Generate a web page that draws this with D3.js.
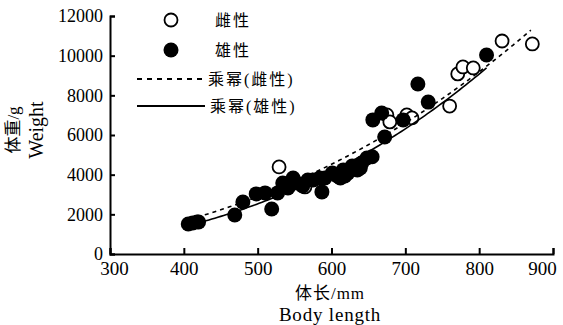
<!DOCTYPE html>
<html>
<head>
<meta charset="utf-8">
<script src="https://cdn.jsdelivr.net/npm/d3@7"></script>
<style>
  body { margin: 0; background: #fff; }
  text { fill: #000; }
</style>
</head>
<body>
<div id="chart"></div>
<script>
// body length (mm) and weight (g)
// (the first female point sits underneath the filled male markers)
const femaleLength = [418, 529, 564, 675, 679, 702, 709, 760, 771, 778, 792, 831, 872];
const femaleWeight = [1620, 4390, 3380, 7010, 6660, 7010, 6860, 7460, 9080, 9430, 9380, 10740, 10590];

const maleLength = [406, 412, 420, 469, 480, 498, 510, 519, 527, 534, 541, 548, 553, 561, 568, 575,
  584, 587, 591, 601, 608, 612, 616, 618, 622, 628, 635, 639, 641, 648, 655, 672, 656, 668, 697, 717, 731, 810];
const maleWeight = [1510, 1560, 1610, 1970, 2620, 3030, 3080, 2270, 3080, 3580, 3330, 3830, 3580, 3430, 3730, 3730,
  3830, 3130, 3830, 4080, 3930, 3830, 4240, 3930, 4080, 4440, 4240, 4340, 4590, 4840, 4900, 5900, 6760, 7110, 6760, 8570, 7660, 10030];

// power trend lines W = a * L^b as [ln a, b]
const femaleTrend = [-7.319, 2.46];
const maleTrend = [-9.069, 2.72];

const xTicks = [300, 400, 500, 600, 700, 800, 900];
const yTicks = [0, 2000, 4000, 6000, 8000, 10000, 12000];

const W = 563, H = 325;
const margin = { top: 16, right: 10, bottom: 71, left: 110 };
const serif = "'Liberation Serif', 'Noto Sans CJK SC', serif";

const svg = d3.select("#chart").append("svg")
  .attr("width", W)
  .attr("height", H);

const x = d3.scaleLinear().domain([300, 900]).range([margin.left, 553]);
const y = d3.scaleLinear().domain([0, 12000]).range([254, margin.top]);

// trend curve over the range of the series
function trendPoints(xs, trend) {
  const [lo, hi] = d3.extent(xs);
  return d3.range(lo, hi + 1, 4).map(v => [v, Math.exp(trend[0]) * Math.pow(v, trend[1])]);
}

const line = d3.line().x(d => x(d[0])).y(d => y(d[1]));

// points
const female = femaleLength.map((v, i) => [v, femaleWeight[i]]);
const male = maleLength.map((v, i) => [v, maleWeight[i]]);

svg.append("g").selectAll("circle")
  .data(female)
  .join("circle")
  .attr("cx", d => x(d[0]))
  .attr("cy", d => y(d[1]))
  .attr("r", 6.5)
  .attr("fill", "#fff")
  .attr("stroke", "#000")
  .attr("stroke-width", 1.8);

svg.append("g").selectAll("circle")
  .data(male)
  .join("circle")
  .attr("cx", d => x(d[0]))
  .attr("cy", d => y(d[1]))
  .attr("r", 7.5)
  .attr("fill", "#000");

// trend lines
svg.append("path")
  .attr("d", line(trendPoints(femaleLength, femaleTrend)))
  .attr("fill", "none")
  .attr("stroke", "#000")
  .attr("stroke-width", 1.6)
  .attr("stroke-dasharray", "4,4");

svg.append("path")
  .attr("d", line(trendPoints(maleLength, maleTrend)))
  .attr("fill", "none")
  .attr("stroke", "#000")
  .attr("stroke-width", 1.6);

// axes, ticks point inward
const xAxis = svg.append("g")
  .attr("transform", `translate(0,${y(0)})`)
  .call(d3.axisBottom(x).tickValues(xTicks).tickFormat(d3.format("d"))
    .tickSizeInner(-6).tickSizeOuter(-6).tickPadding(8));
xAxis.selectAll("text")
  .style("font-family", serif)
  .style("font-size", "19px")
  .attr("dx", d => d === 300 ? 4 : d === 900 ? -11 : 0);

const yAxis = svg.append("g")
  .attr("transform", `translate(${x(300)},0)`)
  .call(d3.axisLeft(y).tickValues(yTicks).tickFormat(d3.format("d"))
    .tickSizeInner(-5).tickSizeOuter(-5).tickPadding(7));
yAxis.selectAll("text")
  .style("font-family", serif)
  .style("font-size", "18px");

svg.selectAll(".domain, .tick line").attr("stroke-width", 2);

// axis titles
svg.append("text")
  .attr("transform", `translate(19,130) rotate(-90)`)
  .attr("text-anchor", "middle")
  .style("font-family", serif)
  .style("font-size", "17px")
  .text("体重/g");

svg.append("text")
  .attr("transform", `translate(43,130) rotate(-90)`)
  .attr("text-anchor", "middle")
  .style("font-family", serif)
  .style("font-size", "20px")
  .text("Weight");

svg.append("text")
  .attr("x", 330).attr("y", 299)
  .attr("text-anchor", "middle")
  .style("font-family", serif)
  .style("font-size", "17px")
  .style("letter-spacing", "1px")
  .text("体长/mm");

svg.append("text")
  .attr("x", 330).attr("y", 321)
  .attr("text-anchor", "middle")
  .style("font-family", serif)
  .style("font-size", "19px")
  .style("letter-spacing", "0.8px")
  .text("Body length");

// legend
const legend = svg.append("g");

legend.append("circle").attr("cx", 171).attr("cy", 20).attr("r", 6.5)
  .attr("fill", "#fff").attr("stroke", "#000").attr("stroke-width", 1.8);
legend.append("circle").attr("cx", 171).attr("cy", 50).attr("r", 7.5).attr("fill", "#000");
legend.append("line").attr("x1", 137).attr("x2", 202).attr("y1", 79).attr("y2", 79)
  .attr("stroke", "#000").attr("stroke-width", 2).attr("stroke-dasharray", "5,5");
legend.append("line").attr("x1", 137).attr("x2", 205).attr("y1", 106).attr("y2", 106)
  .attr("stroke", "#000").attr("stroke-width", 2);

const legendLabels = [
  { text: "雌性", x: 215, y: 26 },
  { text: "雄性", x: 215, y: 56 },
  { text: "乘幂(雌性)", x: 208, y: 85 },
  { text: "乘幂(雄性)", x: 210, y: 112 }
];
legend.selectAll(".legend-label")
  .data(legendLabels)
  .join("text")
  .attr("class", "legend-label")
  .attr("x", d => d.x)
  .attr("y", d => d.y)
  .style("font-family", serif)
  .style("font-size", "16px")
  .style("letter-spacing", "2px")
  .text(d => d.text);
</script>
</body>
</html>
